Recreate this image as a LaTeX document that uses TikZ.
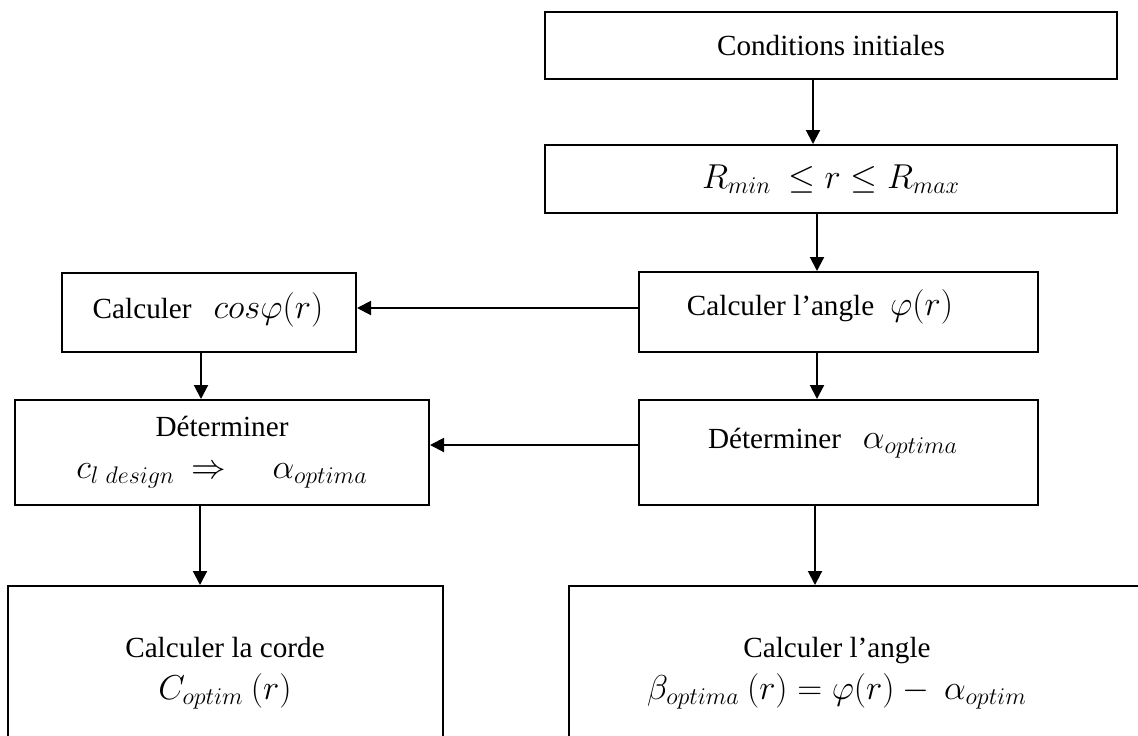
\documentclass[tikz,border=0pt]{standalone}
\usepackage{fontspec}
\setmainfont{Liberation Serif}
\DeclareMathSizes{14.6}{16.5}{12}{9}
\usetikzlibrary{arrows.meta, positioning, calc}

\begin{document}
\begin{tikzpicture}[x=0.5pt, y=-0.5pt,
    box/.style={draw, line width=1pt, inner sep=0pt},
    flow/.style={line width=1pt, -{Triangle[length=7pt, width=7pt]}},
    font=\fontsize{14.6}{21}\selectfont]
  \useasboundingbox (0,0) rectangle (1138,735);
  \clip (0,0) rectangle (1138,735);

  % right column
  \node[box, minimum width=286pt, minimum height=33.5pt] (init) at (831,45.5)
    {Conditions initiales};
  \node[box, minimum width=286pt, minimum height=34pt] (range) at (831,179)
    {$R_{min}\ \le r \le R_{max}$};
  \node[box, minimum width=199.5pt, minimum height=40pt] (angle) at (838.5,312) {};
  \node (angletxt) at (820,307) {Calculer l’angle\hspace{8pt}$\varphi(r)$};
  \node[box, minimum width=199.5pt, minimum height=52.5pt] (alpha) at (838.5,452.5) {};
  \node (alphatxt) at (833,443) {Déterminer\hspace{11pt}$\alpha_{optima}$};

  % left column
  \node[box, minimum width=147pt, minimum height=39.5pt] (cosbox) at (209,312.5) {};
  \node (costxt) at (208,310) {Calculer\hspace{11pt}$cos\varphi(r)$};
  \node[box, minimum width=207pt, minimum height=52.5pt, align=center] (design) at (222,452.5)
    {Déterminer\\ $c_{l\ design}\ \Rightarrow\quad\ \alpha_{optima}$};

  % bottom boxes, cut by the page edge
  \node[box, minimum width=217.5pt, minimum height=94pt] (corde) at (225.5,680) {};
  \node[align=center] (cordetxt) at (225,673) {Calculer la corde\\ $C_{optim}\ (r)$};
  \node[box, minimum width=295.5pt, minimum height=94pt] (beta) at (864.5,680) {};
  \node[align=center] (betatxt) at (837,673)
    {Calculer l’angle\\ $\beta_{optima}\ (r) = \varphi(r) -\ \alpha_{optim}$};

  % connectors
  \draw[flow] ([xshift=-9pt]init.south) -- ([xshift=-9pt]init.south |- range.north);
  \draw[flow] ([xshift=-7pt]range.south) -- ([xshift=-7pt]range.south |- angle.north);
  \draw[flow] ([xshift=-10.75pt]angle.south) -- ([xshift=-10.75pt]angle.south |- alpha.north);
  \draw[flow] ([yshift=2pt]angle.west) -- ([yshift=2pt]angle.west -| cosbox.east);
  \draw[flow] ([xshift=-4pt]cosbox.south) -- ([xshift=-4pt]cosbox.south |- design.north);
  \draw[flow] ([yshift=3.75pt]alpha.west) -- ([yshift=3.75pt]alpha.west -| design.east);
  \draw[flow] ([xshift=-11pt]design.south) -- ([xshift=-11pt]design.south |- corde.north);
  \draw[flow] ([xshift=-11.75pt]alpha.south) -- ([xshift=-11.75pt]alpha.south |- beta.north);
\end{tikzpicture}
\end{document}
